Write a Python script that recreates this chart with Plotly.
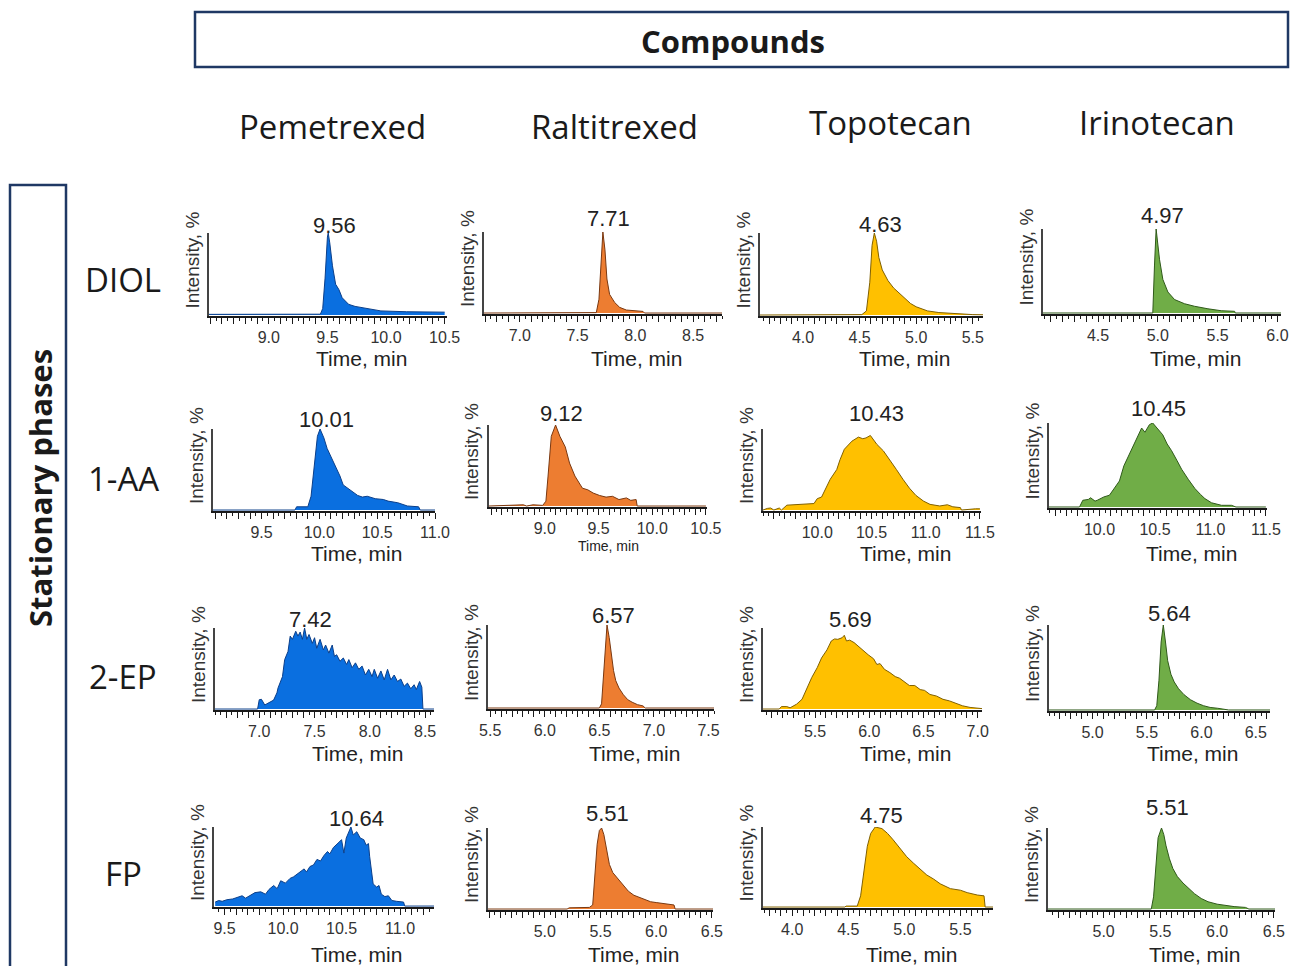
import plotly.graph_objects as go

# ---------------- data ----------------
COMPOUNDS = ["Pemetrexed", "Raltitrexed", "Topotecan", "Irinotecan"]
PHASES = ["DIOL", "1-AA", "2-EP", "FP"]

# DIOL
DIOL_PEM_T = [8.49, 9.00, 9.44, 9.46, 9.48, 9.50, 9.507, 9.52, 9.543, 9.570, 9.598, 9.626, 9.681, 9.736, 9.818, 9.901, 9.956, 10.176, 10.424, 10.50]
DIOL_PEM_I = [0.8, 0.9, 1.0, 8, 45, 95, 100, 88, 60, 37.5, 31, 21, 13, 10.5, 8.5, 6, 5, 4, 3.6, 3.5]
DIOL_RAL_T = [6.69, 7.662, 7.685, 7.702, 7.719, 7.737, 7.754, 7.777, 7.821, 7.864, 7.922, 8.066, 8.08, 8.75]
DIOL_RAL_I = [0, 0.5, 17, 66, 100, 78, 42, 23, 13, 7, 3.7, 2, 0, 0]
DIOL_TOP_T = [3.62, 4.52, 4.56, 4.59, 4.61, 4.63, 4.65, 4.67, 4.70, 4.75, 4.80, 4.85, 4.90, 4.95, 5.00, 5.05, 5.10, 5.20, 5.30, 5.40, 5.50, 5.59]
DIOL_TOP_I = [0, 0.5, 5, 40, 85, 100, 90, 70, 55, 42, 33, 27, 20, 14, 10, 7, 5, 3, 2, 1, 0.5, 0.3]
DIOL_IRI_T = [4.04, 4.958, 4.972, 4.986, 5.014, 5.042, 5.084, 5.140, 5.224, 5.307, 5.419, 5.530, 5.642, 5.648, 6.03]
DIOL_IRI_I = [0, 0, 56, 100, 64, 40, 25, 16, 11, 8, 5, 2.7, 2, 0, 0]

# 1-AA
AA_PEM_T = [9.08, 9.789, 9.803, 9.900, 9.928, 9.956, 9.983, 10.006, 10.039, 10.067, 10.108, 10.150, 10.178, 10.206, 10.261, 10.331, 10.372, 10.414, 10.483, 10.553, 10.594, 10.678, 10.761, 10.858, 10.872, 11.0]
AA_PEM_I = [0, 0, 4, 4, 17, 58, 91, 100, 89, 76, 64, 50, 42, 31, 25, 18, 16, 17, 14, 13, 11, 9, 5, 4, 0, 0]
AA_RAL_T = [8.48, 8.80, 8.83, 8.89, 8.98, 9.01, 9.03, 9.06, 9.10, 9.14, 9.19, 9.23, 9.28, 9.32, 9.35, 9.40, 9.45, 9.51, 9.57, 9.63, 9.69, 9.76, 9.80, 9.85, 9.86, 10.50]
AA_RAL_I = [0, 1.5, 0, 1.5, 0.8, 6, 37, 86, 100, 86, 73, 53, 37, 29, 22, 20, 16, 13, 11, 12, 8, 10, 7, 8, 0, 0]
AA_TOP_T = [9.50, 9.54, 9.57, 9.60, 9.65, 9.67, 9.72, 9.97, 10.00, 10.04, 10.12, 10.18, 10.21, 10.25, 10.32, 10.38, 10.42, 10.45, 10.49, 10.55, 10.61, 10.67, 10.73, 10.79, 10.85, 10.91, 10.98, 11.04, 11.13, 11.20, 11.25, 11.32, 11.33, 11.46, 11.50]
AA_TOP_I = [0, 2, 2.5, 0, 2.5, 0, 6, 8, 14, 16, 38, 50, 62, 75, 85, 90, 88, 89, 92, 81, 73, 62, 50, 38, 27, 18, 11, 7, 5, 6.5, 4, 3, 0, 1.5, 1.5]
AA_IRI_T = [9.545, 9.82, 9.85, 9.90, 9.92, 9.96, 9.98, 10.04, 10.09, 10.13, 10.18, 10.22, 10.27, 10.31, 10.36, 10.38, 10.41, 10.45, 10.48, 10.52, 10.57, 10.61, 10.65, 10.70, 10.74, 10.80, 10.86, 10.91, 10.95, 11.01, 11.10, 11.19, 11.22, 11.23, 11.50]
AA_IRI_I = [0, 0, 8, 9, 11, 7, 8, 12, 14, 22, 31, 49, 63, 75, 88, 94, 89, 98, 100, 94, 86, 75, 67, 55, 45, 33, 22, 15, 10, 5, 2, 2, 1, 0, 0]

# 2-EP
EP_PEM_T = [6.60, 6.985, 7.00, 7.02, 7.05, 7.08, 7.13, 7.16, 7.17, 7.21, 7.23, 7.26, 7.28, 7.30, 7.33, 7.35, 7.37, 7.39, 7.41, 7.43,
            7.45, 7.48, 7.50, 7.52, 7.55, 7.58, 7.60, 7.63, 7.66, 7.68, 7.70, 7.73, 7.76, 7.79, 7.81, 7.84, 7.87, 7.90, 7.93, 7.96,
            7.99, 8.02, 8.04, 8.07, 8.10, 8.13, 8.16, 8.19, 8.22, 8.25, 8.28, 8.31, 8.34, 8.37, 8.40, 8.42, 8.45, 8.47, 8.48, 8.58]
EP_PEM_I = [0, 0, 11.5, 12, 5, 7, 11, 20, 26, 40, 61, 71, 90, 86, 96, 90, 95, 86, 100, 86,
            92, 81, 88, 75, 86, 73, 79, 69, 79, 65, 67, 59, 63, 55, 61, 51, 57, 49, 53, 42,
            49, 40, 49, 38, 47, 36, 49, 36, 42, 34, 37, 28, 32, 25, 30, 24, 34, 27, 0, 0]
EP_RAL_T = [5.48, 6.50, 6.52, 6.54, 6.56, 6.57, 6.59, 6.61, 6.63, 6.65, 6.68, 6.72, 6.76, 6.80, 6.85, 6.90, 6.92, 7.55]
EP_RAL_I = [0, 0, 5, 40, 85, 100, 85, 62, 45, 33, 24, 16, 10, 7, 4, 2.5, 0, 0]
EP_TOP_T = [5.02, 5.17, 5.19, 5.24, 5.27, 5.33, 5.38, 5.42, 5.47, 5.52, 5.56, 5.61, 5.65, 5.68, 5.71, 5.75, 5.77, 5.79, 5.82, 5.86,
            5.90, 5.94, 5.99, 6.04, 6.07, 6.10, 6.14, 6.19, 6.24, 6.28, 6.33, 6.37, 6.42, 6.47, 6.51, 6.56, 6.62, 6.68, 6.74, 6.80,
            6.86, 6.93, 7.00, 7.04]
EP_TOP_I = [0, 0, 3, 3, 1.5, 6, 12, 24, 39, 51, 63, 73, 84, 86.5, 86, 88, 91, 84, 85, 82,
            77, 73, 67, 62, 55, 56, 49, 45, 40, 38, 33, 29, 29, 24, 23, 18, 16, 12, 10, 7,
            4, 2, 1, 0.5]
EP_IRI_T = [4.60, 5.57, 5.59, 5.61, 5.63, 5.65, 5.67, 5.69, 5.72, 5.75, 5.79, 5.84, 5.90, 5.96, 6.02, 6.08, 6.15, 6.22, 6.25, 6.63]
EP_IRI_I = [0, 0, 5, 35, 80, 100, 80, 58, 42, 33, 25, 18, 12, 8, 5, 3, 2, 1, 0, 0]

# FP
FP_PEM_T = [9.42, 9.45, 9.48, 9.52, 9.57, 9.61, 9.65, 9.68, 9.72, 9.76, 9.81, 9.85, 9.88, 9.92, 9.95, 9.98, 10.02, 10.06, 10.09, 10.12,
            10.15, 10.18, 10.20, 10.23, 10.26, 10.29, 10.32, 10.35, 10.38, 10.40, 10.43, 10.46, 10.48, 10.50, 10.52, 10.54, 10.56, 10.58, 10.60, 10.63,
            10.66, 10.69, 10.71, 10.73, 10.74, 10.77, 10.80, 10.82, 10.84, 10.87, 10.90, 10.93, 10.97, 11.03, 11.04, 11.29]
FP_PEM_I = [5, 7, 6, 8, 9, 11, 13, 10, 14, 17, 18, 15, 21, 26, 22, 32, 29, 35, 37, 40,
            44, 47, 43, 50, 52, 59, 57, 64, 69, 66, 74, 79, 81, 84, 67, 86, 92, 100, 90, 94,
            86, 84, 77, 79, 63, 28, 24, 26, 15, 12, 13, 7, 6, 5, 0, 0]
FP_RAL_T = [4.49, 5.20, 5.22, 5.40, 5.43, 5.45, 5.47, 5.49, 5.51, 5.53, 5.55, 5.58, 5.61, 5.65, 5.70, 5.75, 5.80, 5.85, 5.90, 5.95, 6.00, 6.05, 6.10, 6.16, 6.17, 6.51]
FP_RAL_I = [0, 0, 1.5, 2, 5, 40, 80, 97, 100, 92, 75, 55, 45, 38, 30, 22, 17, 14, 11, 9, 8, 7, 6, 5, 0, 0]
FP_TOP_T = [3.74, 4.47, 4.48, 4.58, 4.61, 4.64, 4.67, 4.70, 4.74, 4.80, 4.85, 4.90, 4.96, 5.02, 5.08, 5.14, 5.20, 5.26, 5.32, 5.41, 5.50, 5.56, 5.65, 5.71, 5.72, 5.79]
FP_TOP_I = [0, 0, 1.2, 1.2, 14, 43, 76, 92, 100, 98, 92, 84, 73, 63, 55, 47, 40, 35, 29, 23, 21, 18, 15, 14, 0, 0]
FP_IRI_T = [4.51, 5.42, 5.44, 5.46, 5.48, 5.51, 5.53, 5.55, 5.58, 5.61, 5.65, 5.70, 5.75, 5.80, 5.86, 5.92, 6.00, 6.08, 6.15, 6.25, 6.28, 6.51]
FP_IRI_I = [0, 0, 15, 55, 88, 100, 92, 78, 62, 50, 40, 32, 25, 19, 13, 9, 6, 4, 3, 2, 0, 0]

PEAK_LABELS = [["9.56", "7.71", "4.63", "4.97"],
               ["10.01", "9.12", "10.43", "10.45"],
               ["7.42", "6.57", "5.69", "5.64"],
               ["10.64", "5.51", "4.75", "5.51"]]

TICK_LABELS = [[[9.0, 9.5, 10.0, 10.5], [7.0, 7.5, 8.0, 8.5], [4.0, 4.5, 5.0, 5.5], [4.5, 5.0, 5.5, 6.0]],
               [[9.5, 10.0, 10.5, 11.0], [9.0, 9.5, 10.0, 10.5], [10.0, 10.5, 11.0, 11.5], [10.0, 10.5, 11.0, 11.5]],
               [[7.0, 7.5, 8.0, 8.5], [5.5, 6.0, 6.5, 7.0, 7.5], [5.5, 6.0, 6.5, 7.0], [5.0, 5.5, 6.0, 6.5]],
               [[9.5, 10.0, 10.5, 11.0], [5.0, 5.5, 6.0, 6.5], [4.0, 4.5, 5.0, 5.5], [5.0, 5.5, 6.0, 6.5]]]

SERIES = [[(DIOL_PEM_T, DIOL_PEM_I), (DIOL_RAL_T, DIOL_RAL_I), (DIOL_TOP_T, DIOL_TOP_I), (DIOL_IRI_T, DIOL_IRI_I)],
          [(AA_PEM_T, AA_PEM_I), (AA_RAL_T, AA_RAL_I), (AA_TOP_T, AA_TOP_I), (AA_IRI_T, AA_IRI_I)],
          [(EP_PEM_T, EP_PEM_I), (EP_RAL_T, EP_RAL_I), (EP_TOP_T, EP_TOP_I), (EP_IRI_T, EP_IRI_I)],
          [(FP_PEM_T, FP_PEM_I), (FP_RAL_T, FP_RAL_I), (FP_TOP_T, FP_TOP_I), (FP_IRI_T, FP_IRI_I)]]

# ---------------- layout / style ----------------
W, H = 1293, 966
FILL = ["#0A6FE0", "#ED7D31", "#FFC000", "#70AD47"]
EDGE = ["#0B3F8A", "#7A3810", "#806000", "#2F5A1A"]
AX_FONT = "Liberation Sans, Arial, sans-serif"
HD_FONT = "Open Sans, Noto Sans, sans-serif"

# per panel: (x0 px, x1 px, xmin, xmax, ytop px, ybot px)
GEOM = [[(209, 447, 8.49, 10.52, 233, 316), (484, 722, 6.69, 8.75, 232, 314), (760, 983, 3.62, 5.59, 233, 316), (1043, 1281, 4.04, 6.03, 229, 314)],
        [(213, 435, 9.08, 11.0, 429, 511), (489, 707, 8.48, 10.51, 425, 507), (763, 981, 9.50, 11.51, 429, 511), (1049, 1267, 9.545, 11.51, 423, 508)],
        [(215, 434, 6.60, 8.58, 628, 710), (488, 714, 5.48, 7.55, 625, 709), (763, 982, 5.02, 7.04, 628, 710), (1049, 1270, 4.60, 6.63, 625, 711)],
        [(214, 434, 9.41, 11.29, 827, 907), (488, 713, 4.49, 6.51, 828, 910), (763, 993, 3.74, 5.79, 827, 908), (1048, 1275, 4.51, 6.51, 828, 910)]]
LABEL_Y = [[225, 218, 224, 216], [420, 413, 413, 408], [619, 615, 619, 613], [818, 813, 815, 807]]
TITLE_Y = [358, 553, 753, 954]


def px(x):
    return x / W


def py(y):
    return 1 - y / H


fig = go.Figure()
annotations = []
shapes = []
k = 0
for r in range(4):
    for c in range(4):
        k += 1
        x0, x1, xmin, xmax, yt, yb = GEOM[r][c]
        t, inten = SERIES[r][c]
        xa = f"x{k}"
        ya = f"y{k}"
        fig.add_trace(go.Scatter(x=t, y=inten, mode="lines", fill="tozeroy",
                                 fillcolor=FILL[c], line=dict(color=EDGE[c], width=1),
                                 xaxis=xa, yaxis=ya, showlegend=False, hoverinfo="skip"))
        labels = TICK_LABELS[r][c]
        vals = []
        texts = []
        n0 = int(xmin * 10) + 1
        n1 = int(xmax * 10 + 1e-9)
        for n in range(n0, n1 + 1):
            v = round(n / 10, 1)
            vals.append(v)
            texts.append(f"{v:.1f}" if any(abs(v - L) < 1e-6 for L in labels) else "")
        suffix = "" if k == 1 else str(k)
        fig.layout[f"xaxis{suffix}"] = dict(
            domain=[px(x0), px(x1)], anchor=ya, range=[xmin, xmax], automargin=False,
            showline=True, linecolor="#1a1a1a", linewidth=1.5,
            ticks="outside", ticklen=6, tickwidth=1, tickcolor="#1a1a1a",
            tickmode="array", tickvals=vals, ticktext=texts,
            tickfont=dict(family=AX_FONT, size=16, color="#333333"),
            minor=dict(tickmode="linear", tick0=0, dtick=0.05, ticks="outside",
                       ticklen=3, tickwidth=1, tickcolor="#1a1a1a", showgrid=False),
            showgrid=False, zeroline=False, fixedrange=True)
        fig.layout[f"yaxis{suffix}"] = dict(
            domain=[py(yb), py(yt)], anchor=xa, range=[-1.2, 100], automargin=False,
            showline=True, linecolor="#444444", linewidth=1.5,
            showticklabels=False, ticks="", showgrid=False, zeroline=False, fixedrange=True)
        # peak label
        imax = max(range(len(inten)), key=lambda i: inten[i])
        annotations.append(dict(x=t[imax], xref=xa, y=py(LABEL_Y[r][c]), yref="paper",
                                text=PEAK_LABELS[r][c], showarrow=False, xshift=6,
                                xanchor="center", yanchor="middle",
                                font=dict(family=AX_FONT, size=22, color="#222222")))
        # y title
        annotations.append(dict(x=px(x0 - 17), y=py((yt + yb) / 2 - 14), xref="paper", yref="paper",
                                text="Intensity, %", textangle=-90, showarrow=False,
                                xanchor="center", yanchor="middle",
                                font=dict(family=AX_FONT, size=19, color="#333333")))
        # x title
        small = (r == 1 and c == 1)
        annotations.append(dict(x=px((x0 + x1) / 2 + (10 if small else 33)),
                                y=py(546 if small else TITLE_Y[r]), xref="paper", yref="paper",
                                text="Time, min", showarrow=False, xanchor="center", yanchor="middle",
                                font=dict(family=AX_FONT, size=14 if small else 21, color="#222222")))

# headers
COL_CENTERS = [(333, 126), (614, 126), (890, 122), (1157, 123)]
for name, (cx, cy) in zip(COMPOUNDS, COL_CENTERS):
    annotations.append(dict(x=px(cx), y=py(cy), xref="paper", yref="paper", text=name,
                            showarrow=False, xanchor="center", yanchor="middle",
                            font=dict(family=HD_FONT, size=33, color="#1a1a1a")))
ROW_CENTERS = [(123, 280), (123, 478), (123, 676), (123, 873)]
for name, (cx, cy) in zip(PHASES, ROW_CENTERS):
    annotations.append(dict(x=px(cx), y=py(cy), xref="paper", yref="paper", text=name,
                            showarrow=False, xanchor="center", yanchor="middle",
                            font=dict(family=HD_FONT, size=33, color="#1a1a1a")))
annotations.append(dict(x=px(733), y=py(41), xref="paper", yref="paper", text="<b>Compounds</b>",
                        showarrow=False, xanchor="center", yanchor="middle",
                        font=dict(family=HD_FONT, size=31, color="#1a1a1a")))
annotations.append(dict(x=px(40), y=py(488), xref="paper", yref="paper", text="<b>Stationary phases</b>",
                        textangle=-90, showarrow=False, xanchor="center", yanchor="middle",
                        font=dict(family=HD_FONT, size=31, color="#1a1a1a")))
shapes.append(dict(type="rect", xref="paper", yref="paper", x0=px(195), x1=px(1288), y0=py(67), y1=py(12),
                   line=dict(color="#1F3864", width=2.5), fillcolor="rgba(0,0,0,0)"))
shapes.append(dict(type="rect", xref="paper", yref="paper", x0=px(10), x1=px(66), y0=py(990), y1=py(185),
                   line=dict(color="#1F3864", width=2.5), fillcolor="rgba(0,0,0,0)"))

fig.update_layout(width=W, height=H, margin=dict(l=0, r=0, t=0, b=0, autoexpand=False),
                  paper_bgcolor="white", plot_bgcolor="white",
                  annotations=annotations, shapes=shapes, showlegend=False)
fig.write_html("out.html", config={"displayModeBar": False},
               post_script="document.body.style.margin='0';document.body.style.padding='0';"
                           "document.body.style.overflow='hidden';"
                           "document.documentElement.style.overflow='hidden';")
